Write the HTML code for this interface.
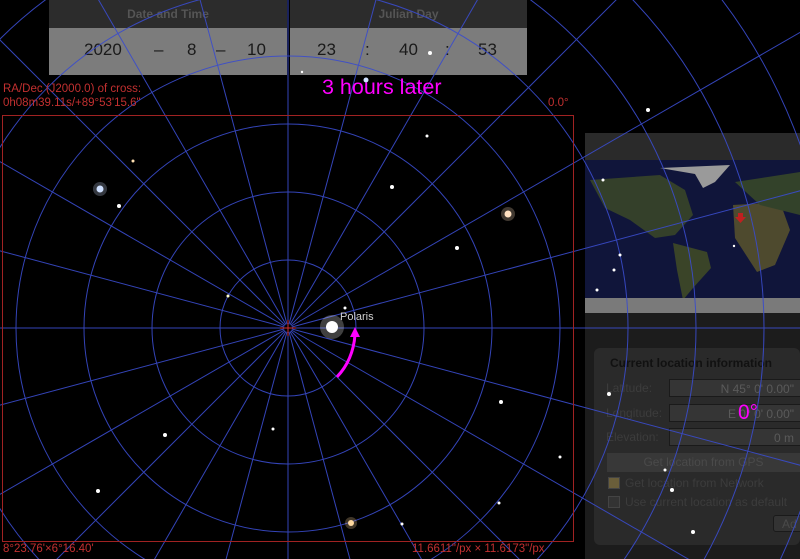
<!DOCTYPE html>
<html><head><meta charset="utf-8"><style>
html,body{margin:0;padding:0;background:#000;overflow:hidden;width:800px;height:559px;}
body{position:relative;font-family:"Liberation Sans",sans-serif;}
svg{position:absolute;left:0;top:0;}
.abs{position:absolute;}
.panel{position:absolute;top:0;height:75px;background:#7c7c7c;}
.phead{position:absolute;left:0;top:0;right:0;height:28px;background:#2c2c2c;color:#555;font-weight:bold;font-size:12px;text-align:center;line-height:28px;}
.val{position:absolute;top:40px;font-size:17px;color:#1a1a1a;}
.red{color:#c23030;font-size:11.5px;position:absolute;white-space:nowrap;}
.rp{position:absolute;left:585px;top:133px;width:215px;height:426px;background:rgba(30,30,30,0.93);overflow:hidden;}
.lab{position:absolute;left:21px;color:#3c3c3c;font-size:12px;}
.fld{position:absolute;left:84px;width:140px;height:18px;background:#353535;border:1px solid #1a1a1a;color:#5a5a5a;font-size:12px;text-align:right;line-height:18px;box-sizing:border-box;padding-right:14px;}
</style></head><body>
<div class="panel" style="left:49px;width:238px;">
 <div class="phead">Date and Time</div>
 <span class="val" style="left:35px">2020</span>
 <span class="val" style="left:105px">–</span>
 <span class="val" style="left:138px">8</span>
 <span class="val" style="left:167px">–</span>
 <span class="val" style="left:198px">10</span>
</div>
<div class="panel" style="left:290px;width:237px;">
 <div class="phead">Julian Day</div>
 <span class="val" style="left:27px">23</span>
 <span class="val" style="left:75px">:</span>
 <span class="val" style="left:109px">40</span>
 <span class="val" style="left:155px">:</span>
 <span class="val" style="left:188px">53</span>
</div>
<div class="rp">
 <div class="abs" style="left:0;top:0;width:215px;height:27px;background:#2a2a2a;"></div>
 <svg class="abs" style="left:0;top:27px" width="215" height="153">
  <rect width="215" height="153" fill="#10153a"/>
  <path d="M5 20 L75 15 L100 30 L108 55 L90 75 L70 78 L45 60 L20 48Z" fill="#34402a"/>
  <path d="M75 8 L145 5 L130 22 L118 28 L110 14Z" fill="#9a9a9a"/>
  <path d="M88 83 L122 92 L126 108 L108 128 L98 140 L92 110Z" fill="#3a4428"/>
  <path d="M148 45 L195 42 L205 70 L190 105 L172 112 L150 78Z" fill="#4e4a2e"/>
  <path d="M150 22 L215 12 L215 55 L175 45Z" fill="#33422a"/>
  <rect y="138" width="215" height="15" fill="#7a7a7a"/>
  <path d="M153 53 l5 0 0 4 3 0 -5.5 6 -5.5 -6 3 0z" fill="#c02020"/>
 </svg>
 <div class="abs" style="left:9px;top:215px;width:206px;height:197px;background:#2a2a2a;border-radius:6px;"></div>
 <div class="abs" style="left:25px;top:223px;color:#111;font-weight:bold;font-size:12px;">Current location information</div>
 <div class="lab" style="top:248px">Latitude:</div>
 <div class="fld" style="top:246px">N 45° 0' 0.00"</div>
 <div class="lab" style="top:273px">Longitude:</div>
 <div class="fld" style="top:271px">E 0° 0' 0.00"</div>
 <div class="lab" style="top:297px">Elevation:</div>
 <div class="fld" style="top:295px">0 m</div>
 <div class="abs" style="left:22px;top:320px;width:193px;height:19px;background:#383838;color:#4a4a4a;font-size:12px;text-align:center;line-height:19px;">Get location from GPS</div>
 <div class="abs" style="left:23px;top:344px;width:10px;height:10px;background:#6a5e3a;border:1px solid #444;"></div>
 <div class="abs" style="left:40px;top:343px;color:#3c3c3c;font-size:12px;">Get location from Network</div>
 <div class="abs" style="left:23px;top:363px;width:10px;height:10px;background:#333;border:1px solid #444;"></div>
 <div class="abs" style="left:40px;top:362px;color:#3c3c3c;font-size:12px;white-space:nowrap;">Use current location as default</div>
 <div class="abs" style="left:188px;top:382px;width:30px;height:17px;background:#333;border:1px solid #1a1a1a;border-radius:3px;color:#4a4a4a;font-size:12px;line-height:17px;padding-left:8px;box-sizing:border-box;">Ad</div>
</div>
<svg width="800" height="559">
 <g id="grid" stroke="#3a4ccc" stroke-width="1" fill="none" opacity="0.9"></g>
 <g id="stars"></g>
 <rect x="2.5" y="115.5" width="571" height="426" fill="none" stroke="#a02222"/>
 <path d="M280 328h16M288 320v16" stroke="#d03030" stroke-width="1"/>
 <text x="340" y="320" fill="#d0d0d0" font-size="11" font-family="Liberation Sans">Polaris</text>
 <path d="M337 377 Q353 360 355 335" stroke="#ff00ff" stroke-width="3" fill="none"/>
 <path d="M350 337 L355 327 L360 337Z" fill="#ff00ff"/>
</svg>
<div class="red" style="left:3px;top:83px">RA/Dec (J2000.0) of cross:</div>
<div class="red" style="left:3px;top:97px">0h08m39.11s/+89°53'15.6"</div>
<div class="red" style="left:548px;top:97px">0.0°</div>
<div class="red" style="left:3px;top:543px">8°23.76'×6°16.40'</div>
<div class="red" style="left:412px;top:543px">11.6611"/px × 11.6173"/px</div>
<div class="abs" style="left:322px;top:75px;color:#ff00ff;font-size:21.5px;white-space:nowrap;">3 hours later</div>
<div class="abs" style="left:738px;top:401px;color:#ff00ff;font-size:21px;">0°</div>
<script>
const ringRadii=[68,136,204,272,340,408,476,544];
const spokeAnglesDeg=[0,15,30,45,60,75,90,105,120,135,150,165,180,195,210,225,240,255,270,285,300,315,330,345];
const starX=[100,119,392,508,457,332,228,501,165,98,351,560,499,402,273,133,427,345,366,430,648,302,603,620,614,597,609,665,672,693,734];
const starY=[189,206,187,214,248,327,296,402,435,491,523,457,503,524,429,161,136,308,80,53,110,72,180,255,270,290,394,470,490,532,246];
const starR=[3.5,2,2,3.5,2,6,1.5,2,2,2,3,1.5,1.5,1.5,1.5,1.5,1.5,1.5,2.5,2,2,1.2,1.5,1.5,1.5,1.5,2,1.5,2,2,1.2];
const starCol=['#cfe0ff','#fff','#fff','#ffe0c0','#fff','#fff','#ffffd0','#fff','#fff','#fff','#ffd9a0','#fff','#fff','#fff','#fff','#ffe0b0','#fff','#fff','#cfe0ff','#fff','#fff','#fff','#fff','#fff','#fff','#fff','#fff','#fff','#fff','#fff','#fff'];
const NS='http://www.w3.org/2000/svg';
const cx=288,cy=328;
const g=document.getElementById('grid');
ringRadii.forEach(function(r){
 const c=document.createElementNS(NS,'circle');
 c.setAttribute('cx',cx);c.setAttribute('cy',cy);c.setAttribute('r',r);
 
 
 g.appendChild(c);
});
spokeAnglesDeg.forEach(function(a){
 const t=a*Math.PI/180;
 const l=document.createElementNS(NS,'line');
 l.setAttribute('x1',cx+4*Math.cos(t));l.setAttribute('y1',cy-4*Math.sin(t));
 l.setAttribute('x2',cx+900*Math.cos(t));l.setAttribute('y2',cy-900*Math.sin(t));
 
 
 g.appendChild(l);
});
const s=document.getElementById('stars');
starX.forEach(function(x,i){
 if(starR[i]>=3){
  const h=document.createElementNS(NS,'circle');
  h.setAttribute('cx',x);h.setAttribute('cy',starY[i]);h.setAttribute('r',starR[i]*2);
  h.setAttribute('fill',starCol[i]);h.setAttribute('opacity','0.25');
  
  
  s.appendChild(h);
 }
 const c=document.createElementNS(NS,'circle');
 c.setAttribute('cx',x);c.setAttribute('cy',starY[i]);c.setAttribute('r',starR[i]);
 c.setAttribute('fill',starCol[i]);
 
 
 s.appendChild(c);
});
</script>
</body></html>
